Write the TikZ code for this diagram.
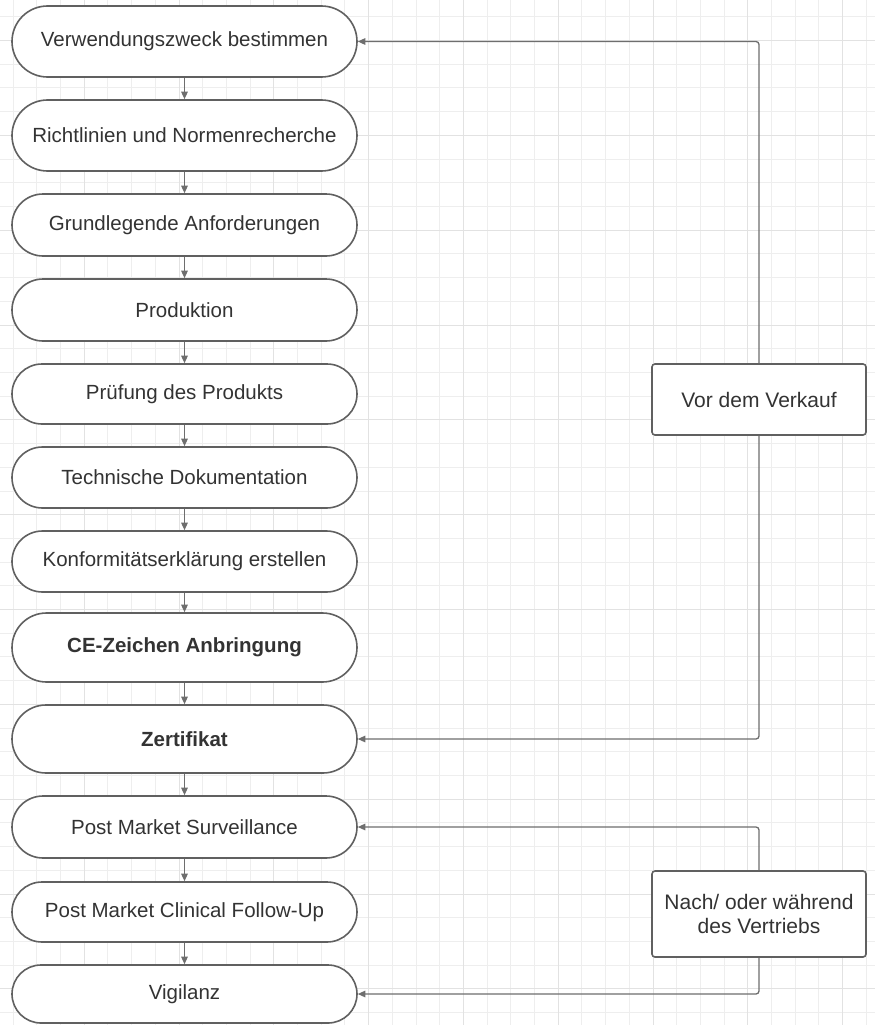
\documentclass[tikz,border=0pt]{standalone}
\usepackage{fontspec}
\setmainfont{Liberation Sans}
\usetikzlibrary{shapes.misc,arrows.meta}
\definecolor{gridminor}{HTML}{EEEEEE}
\definecolor{gridmajor}{HTML}{E2E2E2}
\definecolor{edgegray}{HTML}{606060}
\definecolor{linegray}{HTML}{6E6E6E}
\definecolor{txt}{HTML}{333333}
\begin{document}
\begin{tikzpicture}[x=1pt,y=-1pt,
  stepbox/.style={rounded rectangle, draw=edgegray, line width=1.6pt, fill=white,
    minimum width=345pt, inner sep=0pt, text=txt, font=\fontsize{20.5}{24}\selectfont},
  phasebox/.style={rectangle, rounded corners=3pt, draw=edgegray, line width=1.6pt,
    fill=white, minimum width=214pt, inner sep=0pt, text=txt, align=center,
    font=\fontsize{21}{23.5}\selectfont},
  flow/.style={draw=linegray, line width=1.3pt, -{Triangle[length=7.5pt,width=6.5pt]}},
  loopback/.style={flow, rounded corners=3pt}]

\useasboundingbox (0,0) rectangle (875,1025);
\fill[white] (0,0) rectangle (875,1025);

% background grid
\foreach \i in {0,...,36}
  \draw[gridminor, line width=0.8pt] ({13+\i*23.7},0) -- ({13+\i*23.7},1025);
\foreach \i in {0,...,42}
  \draw[gridminor, line width=0.8pt] (0,{16.7+\i*23.71}) -- (875,{16.7+\i*23.71});
\foreach \i in {0,...,8}
  \draw[gridmajor, line width=0.8pt] ({84.1+\i*94.8},0) -- ({84.1+\i*94.8},1025);
\foreach \i in {0,...,10}
  \draw[gridmajor, line width=0.8pt] (0,{40.4+\i*94.84}) -- (875,{40.4+\i*94.84});

% process steps
\node[stepbox, minimum height=71pt] (n1)  at (184.5,41.5)  {Verwendungszweck bestimmen};
\node[stepbox, minimum height=71pt] (n2)  at (184.5,135.5) {Richtlinien und Normenrecherche};
\node[stepbox, minimum height=62pt] (n3)  at (184.5,225)   {Grundlegende Anforderungen};
\node[stepbox, minimum height=62pt] (n4)  at (184.5,310)   {Produktion};
\node[stepbox, minimum height=60pt] (n5)  at (184.5,394)   {Prüfung des Produkts};
\node[stepbox, minimum height=61pt] (n6)  at (184.5,477.5) {Technische Dokumentation};
\node[stepbox, minimum height=61pt] (n7)  at (184.5,561.5) {Konformitätserklärung erstellen};
\node[stepbox, minimum height=69pt, font=\fontsize{20.5}{24}\selectfont\bfseries] (n8)  at (184.5,647.5) {CE-Zeichen Anbringung};
\node[stepbox, minimum height=68pt, font=\fontsize{20.5}{24}\selectfont\bfseries] (n9)  at (184.5,739)   {Zertifikat};
\node[stepbox, minimum height=62pt] (n10) at (184.5,827)   {Post Market Surveillance};
\node[stepbox, minimum height=60pt] (n11) at (184.5,912)   {Post Market Clinical Follow-Up};
\node[stepbox, minimum height=58pt] (n12) at (184.5,994)   {Vigilanz};

% phase labels
\node[phasebox, minimum height=71pt] (pre)  at (759,399.5) {Vor dem Verkauf};
\node[phasebox, minimum height=86pt] (post) at (759,914)   {Nach/ oder während\\des Vertriebs};

% step sequence
\foreach \a/\b in {n1/n2,n2/n3,n3/n4,n4/n5,n5/n6,n6/n7,n7/n8,n8/n9,n9/n10,n10/n11,n11/n12}
  \draw[flow] (\a.south) -- (\b.north);

% phase brackets
\draw[loopback] (pre.north) |- (n1.east);
\draw[loopback] (pre.south) |- (n9.east);
\draw[loopback] (post.north) |- (n10.east);
\draw[loopback] (post.south) |- (n12.east);
\end{tikzpicture}
\end{document}
